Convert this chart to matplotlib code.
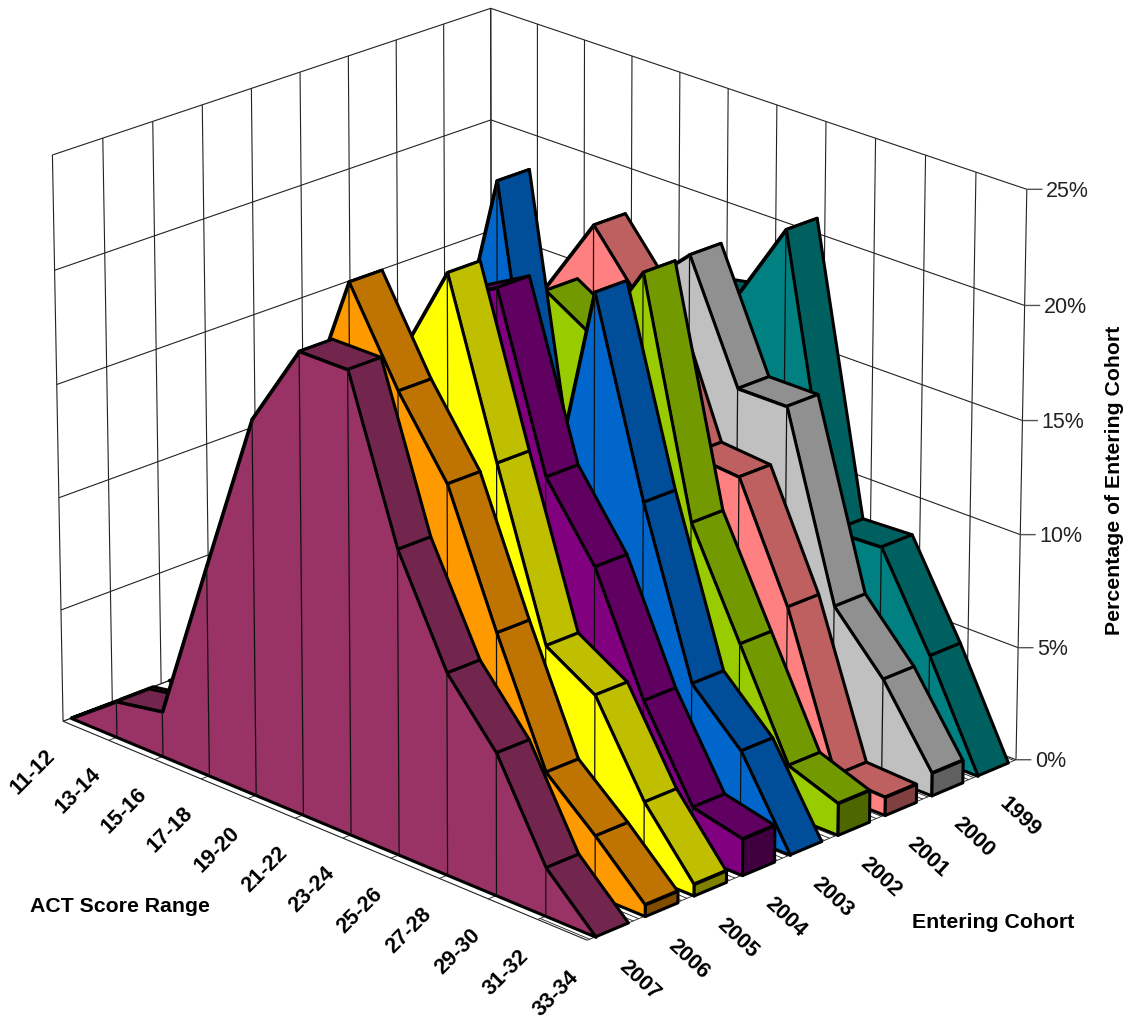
import numpy as np
import matplotlib
matplotlib.use("Agg")
import matplotlib.pyplot as plt
from mpl_toolkits.mplot3d import proj3d
from mpl_toolkits.mplot3d.art3d import Poly3DCollection

plt.rcParams["font.family"] = ["Liberation Sans", "DejaVu Sans"]

score_ranges = ["11-12", "13-14", "15-16", "17-18", "19-20", "21-22",
                "23-24", "25-26", "27-28", "29-30", "31-32", "33-34"]
cohorts = ["2007", "2006", "2005", "2004", "2003", "2002", "2001", "2000", "1999"]
pct_ticks = [0, 5, 10, 15, 20, 25]

# percent of entering cohort per score range, front series first
c2007 = [0.0, 1.6, 2.0, 9.3, 16.5, 20.2, 20.2, 13.3, 8.8, 6.2, 2.1, 0.0]
c2006 = [0.0, 0.4, 2.5, 8.5, 15.8, 22.4, 18.5, 15.3, 9.7, 4.5, 2.6, 0.5]
c2005 = [0.0, 0.4, 2.0, 7.5, 13.0, 18.4, 22.8, 15.4, 8.3, 7.0, 3.2, 0.5]
c2004 = [0.0, 0.4, 1.8, 7.0, 14.0, 20.2, 21.4, 14.0, 10.9, 5.9, 2.1, 1.6]
c2003 = [0.0, 0.4, 2.0, 7.0, 14.8, 24.5, 10.5, 21.2, 12.9, 5.8, 3.7, 0.0]
c2002 = [0.0, 0.4, 1.5, 6.0, 13.0, 19.0, 17.7, 21.3, 11.2, 6.7, 2.2, 1.4]
c2001 = [0.0, 0.4, 1.5, 6.5, 17.6, 21.1, 18.4, 12.6, 12.4, 7.5, 0.9, 0.8]
c2000 = [0.0, 0.4, 1.5, 6.0, 12.0, 17.7, 19.8, 14.7, 14.7, 6.7, 4.3, 1.0]
c1999 = [0.0, 0.4, 1.5, 5.5, 11.0, 16.8, 17.2, 20.9, 8.4, 8.5, 4.5, 0.0]
series = [c2007, c2006, c2005, c2004, c2003, c2002, c2001, c2000, c1999]

face_colors = ["#993366", "#FF9900", "#FFFF00", "#800080", "#0066CC",
               "#99CC00", "#FF8080", "#C0C0C0", "#008080"]
top_colors = ["#73264D", "#BF7300", "#BFBF00", "#600060", "#004D99",
              "#739900", "#BF6060", "#909090", "#006060"]
end_colors = ["#4D1A33", "#804D00", "#808000", "#400040", "#003366",
              "#4D6600", "#804040", "#606060", "#004040"]

W, H = 1131, 1021
fig = plt.figure(figsize=(W / 100, H / 100), dpi=100)
# axes is larger than the figure, the view below only fills part of it
ax = fig.add_axes([-446.4 / W, -422.3 / H, 1916 / W, 1916 / H], projection="3d")
ax.set_proj_type("persp")
ax.view_init(elev=22.114, azim=-44.991)
ax.set_box_aspect((1, 0.8176, 0.8182), zoom=0.5808)
n_x, n_y = len(score_ranges) - 1, len(cohorts)
ax.set_xlim(0, n_x, view_margin=0)
ax.set_ylim(0, n_y, view_margin=0)
ax.set_zlim(0, 25, view_margin=0)
ax.set_axis_off()
ax.computed_zorder = False

GRID = "#222222"
proj = ax.get_proj()


def line(xs, ys, zs, lw=0.8, color=GRID, z=1):
    ax.plot(xs, ys, zs, color=color, lw=lw, zorder=z, solid_capstyle="butt")


def label3d(x, y, z, s, **kw):
    # plain 2d text placed at the projected spot
    px, py, _ = proj3d.proj_transform(x, y, z, proj)
    ax.text2D(px, py, s, transform=ax.transData, ha=kw.pop("ha", "center"), va="center", zorder=50, **kw)


# walls
for k in range(n_y + 1):
    line([0, 0], [k, k], [0, 25])
for i in range(n_x + 1):
    line([i, i], [n_y, n_y], [0, 25])
for p in pct_ticks:
    line([0, 0, n_x], [0, n_y, n_y], [p, p, p])
    line([n_x, n_x + 0.16], [n_y, n_y + 0.16], [p, p], color="#555555", lw=1.0)
    label3d(n_x + 0.2, n_y + 0.2, p - 0.09, f"{p}%", fontsize=15.5, color="#222222", ha="left")

# floor
line([0, n_x], [0, 0], [0, 0])
for i in range(n_x + 1):
    line([i, i], [0, n_y], [0, 0], lw=0.6)
for f in np.arange(0.05, n_y, 0.11):
    line([10, n_x], [f, f], [0, 0], lw=0.6)

# series, back to front
depth = 2 / 3
for s in range(n_y - 1, -1, -1):
    vals = series[s]
    y0 = s + (1 - depth) / 2
    y1 = y0 + depth
    base_z = 10 + (n_y - s) * 2
    strips = [[(i, y0, vals[i]), (i + 1, y0, vals[i + 1]),
               (i + 1, y1, vals[i + 1]), (i, y1, vals[i])] for i in range(n_x)]
    coll = Poly3DCollection(strips, facecolors=top_colors[s], edgecolors="black", linewidths=2.2,
                            zorder=base_z)
    coll.set_joinstyle("round")
    ax.add_collection3d(coll)
    front = [(i, y0, vals[i]) for i in range(n_x + 1)] + [(n_x, y0, 0), (0, y0, 0)]
    coll = Poly3DCollection([front], facecolors=face_colors[s], edgecolors="black", linewidths=2.2,
                            zorder=base_z + 0.2)
    coll.set_joinstyle("round")
    ax.add_collection3d(coll)
    for i in range(1, n_x):
        line([i, i], [y0, y0], [0, vals[i]], lw=0.9, color="#111111", z=base_z + 0.4)
    if vals[n_x] > 0:
        cap = [(n_x, y0, 0), (n_x, y1, 0), (n_x, y1, vals[n_x]), (n_x, y0, vals[n_x])]
        coll = Poly3DCollection([cap], facecolors=end_colors[s], edgecolors="black", linewidths=2.2,
                                zorder=base_z + 0.6)
        coll.set_joinstyle("round")
        ax.add_collection3d(coll)

# axis labels
for i, lab in enumerate(score_ranges):
    label3d(i, -0.625, -1.73, lab, fontsize=15.5, fontweight="bold", rotation=45)
for k, lab in enumerate(cohorts):
    label3d(n_x + 0.55, k + 0.5, -1.68, lab, fontsize=15.5, fontweight="bold", rotation=-43)

fig.text(120 / W, 1 - 906.5 / H, "ACT Score Range", fontsize=15.3, fontweight="bold", ha="center", va="center")
fig.text(993 / W, 1 - 922.5 / H, "Entering Cohort", fontsize=15.3, fontweight="bold", ha="center", va="center")
fig.text(1114 / W, 1 - 480 / H, "Percentage of Entering Cohort", fontsize=15.3, fontweight="bold",
         rotation=90, ha="center", va="center")

fig.savefig("out.png", dpi=100)
